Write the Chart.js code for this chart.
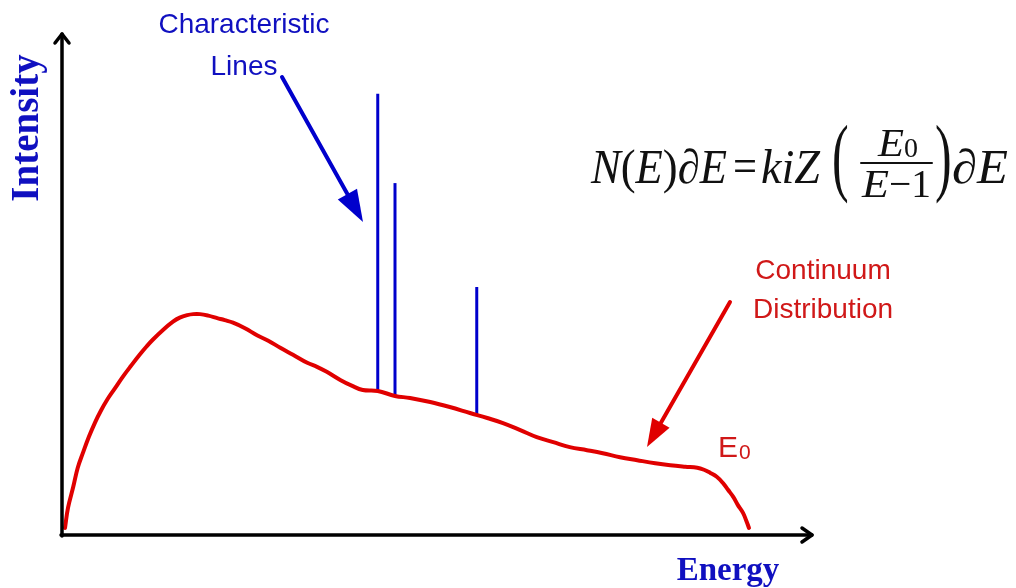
<!DOCTYPE html>
<html>
<head>
<meta charset="utf-8">
<script src="https://cdn.jsdelivr.net/npm/chart.js@4/dist/chart.umd.min.js"></script>
<style>
html,body{margin:0;padding:0;background:#fff;}
#wrap{width:1016px;height:588px;position:relative;}
</style>
</head>
<body>
<div id="wrap"><canvas id="c" width="1016" height="588"></canvas></div>
<script>
// Continuum (bremsstrahlung) curve: energy (arbitrary units) vs intensity
const continuumEnergy = [0.4,0.8,1.5,2.1,2.8,3.6,4.4,5.2,6.0,7.1,8.1,9.2,10.4,11.3,12.1,13.5,14.8,15.7,16.7,17.5,18.4,19.5,20.7,21.7,22.8,24.4,26.0,27.5,29.1,30.8,32.7,34.0,35.3,37.1,38.7,40.1,42.1,44.4,46.4,49.1,51.7,54.4,56.7,58.8,61.1,63.3,65.5,67.7,70.0,72.1,74.4,76.7,79.1,81.1,83.1,84.7,85.6,86.4,87.3,88.1,88.8,89.5,90.1,90.8,91.2,91.6];
const continuumIntensity = [1.4,5.4,9.6,13.4,16.4,19.6,22.4,24.8,26.9,29.3,31.5,33.7,36.0,37.6,38.9,40.9,42.5,43.3,43.8,44.0,44.0,43.7,43.2,42.8,42.3,41.2,39.8,38.7,37.3,35.9,34.3,33.5,32.5,30.9,29.7,28.9,28.7,27.7,27.3,26.5,25.5,24.3,23.3,22.3,20.9,19.5,18.5,17.5,16.9,16.3,15.5,14.9,14.3,13.9,13.6,13.4,13.0,12.4,11.6,10.4,9.0,7.6,6.0,4.4,3.0,1.4];
// Characteristic lines
const lineEnergies = [42.1, 44.4, 55.3];
const lineTops = [87.9, 70.1, 49.4];
const lineBases = [28.9, 27.7, 23.9];

const RED = '#e00000';
const RED_TEXT = '#d01818';
const BLUE = '#0000cc';
const BLUE_TEXT = '#1010c0';

const datasets = [{
  label: 'Continuum',
  data: continuumEnergy.map((x, i) => ({x: x, y: continuumIntensity[i]})),
  showLine: true, borderColor: RED, borderWidth: 4, pointRadius: 0, tension: 0.4,
  borderCapStyle: 'round', borderJoinStyle: 'round'
}];
lineEnergies.forEach((e, i) => {
  datasets.push({
    label: 'Line ' + (i + 1),
    data: [{x: e, y: lineBases[i]}, {x: e, y: lineTops[i]}],
    showLine: true, borderColor: BLUE, borderWidth: 3, pointRadius: 0
  });
});

function arrow(ctx, x1, y1, x2, y2, color, lw, headLen, headHalf) {
  const dx = x2 - x1, dy = y2 - y1, L = Math.hypot(dx, dy);
  const ux = dx / L, uy = dy / L;
  const bx = x2 - ux * headLen, by = y2 - uy * headLen;
  ctx.save();
  ctx.strokeStyle = color; ctx.fillStyle = color; ctx.lineWidth = lw; ctx.lineCap = 'round';
  ctx.beginPath(); ctx.moveTo(x1, y1); ctx.lineTo(bx + ux * 2, by + uy * 2); ctx.stroke();
  ctx.beginPath();
  ctx.moveTo(x2, y2);
  ctx.lineTo(bx - uy * headHalf, by + ux * headHalf);
  ctx.lineTo(bx + uy * headHalf, by - ux * headHalf);
  ctx.closePath(); ctx.fill();
  ctx.restore();
}

// draw text horizontally squeezed/stretched to span [x0, x1]
function fitText(ctx, t, font, x0, x1, base) {
  ctx.save();
  ctx.font = font;
  const w = ctx.measureText(t).width;
  ctx.translate(x0, base); ctx.scale((x1 - x0) / w, 1);
  ctx.textAlign = 'left';
  ctx.fillText(t, 0, 0);
  ctx.restore();
}
function bigParen(ctx, t, x, top, bottom) {
  ctx.save();
  ctx.font = '50px "Liberation Serif", serif';
  ctx.textBaseline = 'alphabetic'; ctx.textAlign = 'left';
  const m = ctx.measureText(t);
  const h = m.actualBoundingBoxAscent + m.actualBoundingBoxDescent;
  const s = (bottom - top) / h;
  ctx.translate(x, top + m.actualBoundingBoxAscent * s);
  ctx.scale(1, s);
  ctx.fillText(t, 0, 0);
  ctx.restore();
}

const decor = {
  id: 'decor',
  beforeDraw(chart) {
    const ctx = chart.ctx;
    ctx.save(); ctx.fillStyle = '#fff'; ctx.fillRect(0, 0, chart.width, chart.height); ctx.restore();
  },
  afterDraw(chart) {
    const ctx = chart.ctx;
    const xs = chart.scales.x, ys = chart.scales.y;
    const x0 = xs.getPixelForValue(0), xr = xs.getPixelForValue(100);
    const y0 = ys.getPixelForValue(0), yt = ys.getPixelForValue(100);
    ctx.save();
    // axes
    ctx.strokeStyle = '#000'; ctx.lineWidth = 3.5; ctx.lineCap = 'round'; ctx.lineJoin = 'round';
    ctx.beginPath(); ctx.moveTo(x0, y0 + 1); ctx.lineTo(x0, yt + 1); ctx.stroke();
    ctx.beginPath(); ctx.moveTo(x0 - 7, yt + 10); ctx.lineTo(x0, yt + 1); ctx.lineTo(x0 + 7, yt + 10); ctx.stroke();
    ctx.beginPath(); ctx.moveTo(x0 - 1, y0); ctx.lineTo(xr, y0); ctx.stroke();
    ctx.beginPath(); ctx.moveTo(xr - 10, y0 - 7); ctx.lineTo(xr, y0); ctx.lineTo(xr - 10, y0 + 7); ctx.stroke();

    // axis titles
    ctx.fillStyle = BLUE_TEXT;
    ctx.font = 'bold 33px "Liberation Serif", "DejaVu Serif", serif';
    ctx.textAlign = 'center'; ctx.textBaseline = 'alphabetic';
    ctx.fillText('Energy', 728, 580);
    ctx.save();
    ctx.translate(38, 128); ctx.rotate(-Math.PI / 2);
    ctx.font = 'bold 39px "Liberation Serif", "DejaVu Serif", serif';
    ctx.fillText('Intensity', 0, 0);
    ctx.restore();

    // labels
    ctx.font = '28px "Liberation Sans", Arial, sans-serif';
    ctx.fillStyle = BLUE_TEXT;
    ctx.fillText('Characteristic', 244, 33);
    ctx.fillText('Lines', 244, 75);
    ctx.fillStyle = RED_TEXT;
    ctx.fillText('Continuum', 823, 279);
    ctx.fillText('Distribution', 823, 318);
    ctx.textAlign = 'left';
    ctx.font = '30px "Liberation Sans", Arial, sans-serif';
    ctx.fillText('E', 718, 457);
    ctx.font = '21px "Liberation Sans", Arial, sans-serif';
    ctx.fillText('0', 739, 459);

    // arrows
    arrow(ctx, 282, 77, 363, 222, BLUE, 4, 32, 11);
    arrow(ctx, 730, 302, 647, 447, RED, 4, 28, 10);

    // formula
    ctx.fillStyle = '#111'; ctx.strokeStyle = '#111';
    const it = 'italic 48px "Liberation Serif", "DejaVu Serif", serif';
    const up = '48px "Liberation Serif", "DejaVu Serif", serif';
    const base = 183;
    ctx.save();
    ctx.font = it; const wN = ctx.measureText('N').width, wE = ctx.measureText('E').width, wD = ctx.measureText('∂').width;
    ctx.font = up; const wP = ctx.measureText('(').width, wQ = ctx.measureText(')').width;
    const total = wN + wP + wE + wQ + wD + wE;
    const sx = (727 - 591) / total;
    ctx.translate(591, base); ctx.scale(sx, 1);
    let cx = 0;
    const seq = [['N', it, wN], ['(', up, wP], ['E', it, wE], [')', up, wQ], ['∂', it, wD], ['E', it, wE]];
    seq.forEach(s => { ctx.font = s[1]; ctx.fillText(s[0], cx, 0); cx += s[2]; });
    ctx.restore();
    fitText(ctx, '=', up, 733, 757, base - 1);
    fitText(ctx, 'kiZ', it, 761, 820, base);
    bigParen(ctx, '(', 832, 122, 204);
    // fraction
    ctx.lineWidth = 2;
    ctx.beginPath(); ctx.moveTo(861, 163); ctx.lineTo(932, 163); ctx.stroke();
    fitText(ctx, 'E', 'italic 40px "Liberation Serif", serif', 878, 904, 156);
    fitText(ctx, '0', '28px "Liberation Serif", serif', 904, 918, 157);
    fitText(ctx, 'E', 'italic 40px "Liberation Serif", serif', 862, 889, 197);
    fitText(ctx, '−1', '40px "Liberation Serif", serif', 889, 931, 197);
    bigParen(ctx, ')', 935, 122, 204);
    fitText(ctx, '∂E', it, 952, 1008, base);
    ctx.restore();
  }
};

new Chart(document.getElementById('c'), {
  type: 'scatter',
  data: { datasets: datasets },
  options: {
    responsive: false, animation: false, events: [],
    layout: { padding: { left: 62, right: 204, top: 33, bottom: 53 } },
    plugins: { legend: { display: false }, tooltip: { enabled: false } },
    scales: {
      x: { type: 'linear', min: 0, max: 100, display: false },
      y: { type: 'linear', min: 0, max: 100, display: false }
    }
  },
  plugins: [decor]
});
</script>
</body>
</html>
